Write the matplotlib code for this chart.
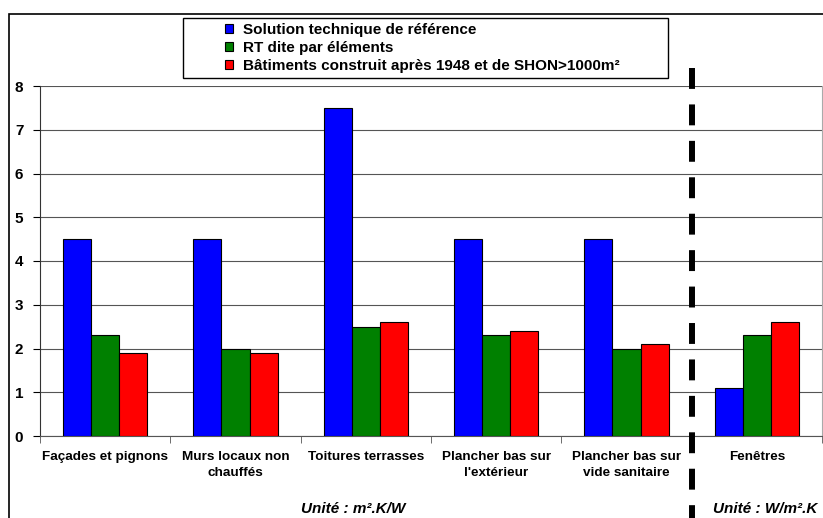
import numpy as np
import matplotlib.pyplot as plt
from matplotlib.patches import Rectangle

plt.rcParams['font.family'] = ['Liberation Sans', 'DejaVu Sans']
plt.rcParams['font.weight'] = 'bold'

# données
categories = ['Façades et pignons', 'Murs locaux non\nchauffés', 'Toitures terrasses',
              "Plancher bas sur\nl'extérieur", 'Plancher bas sur\nvide sanitaire', 'Fenêtres']
series = ['Solution technique de référence', 'RT dite par éléments',
          'Bâtiments construit après 1948 et de SHON>1000m²']
ref = [4.5, 4.5, 7.5, 4.5, 4.5, 1.1]
rt = [2.3, 2.0, 2.5, 2.3, 2.0, 2.3]
bat = [1.9, 1.9, 2.6, 2.4, 2.1, 2.6]
couleurs = ['#0000ff', '#008000', '#ff0000']

W, H = 823, 518
fig = plt.figure(figsize=(W / 100, H / 100), dpi=100)
ax = fig.add_axes([40 / W, 82 / H, 782 / W, 350 / H])

x = np.arange(len(categories))
w = 0.215
for i, (vals, c, lab) in enumerate(zip([ref, rt, bat], couleurs, series)):
    ax.bar(x + (i - 1) * w, vals, w, color=c, edgecolor='black', linewidth=0.8,
           label=lab, zorder=3)

ax.set_xlim(-0.5, len(categories) - 0.5)
ax.set_ylim(0, 8)
ax.set_yticks(range(9))
ax.yaxis.grid(True, color='#555555', linewidth=0.8, zorder=0)
ax.set_xticks(x)
ax.set_xticklabels(categories, fontsize=9.7, fontweight='bold', linespacing=1.45)
ax.set_xticks(np.arange(-0.5, len(categories)), minor=True)
ax.tick_params(axis='x', which='major', length=0, pad=11)
ax.tick_params(axis='x', which='minor', length=5, color='#555555')
ax.tick_params(axis='y', length=5, labelsize=11, pad=7)
for lbl in ax.get_yticklabels():
    lbl.set_fontweight('bold')
ax.spines['top'].set_visible(False)
ax.spines['right'].set_color('#aaaaaa')
ax.spines['bottom'].set_color('#555555')
ax.spines['left'].set_color('#333333')

# ligne pointillée entre murs et fenêtres
ax.plot([4.5, 4.5], [8.41, -2.0], color='black', linewidth=4.3,
        dashes=(3.5, 2.6), clip_on=False, zorder=5)

# cadre extérieur
fig.patches.append(Rectangle((9 / W, -0.1), 1.0, 1 - 14 / H + 0.1,
                             transform=fig.transFigure, fill=False,
                             edgecolor='black', linewidth=1.2))

# cadre de la légende
fig.patches.append(Rectangle((183 / W, 1 - 78 / H), 485 / W, 60 / H,
                             transform=fig.transFigure, fill=True,
                             facecolor='white', edgecolor='black',
                             linewidth=1.0, zorder=4))
leg = fig.legend(loc='center left', bbox_to_anchor=(225 / W, 1 - 48 / H),
                 fontsize=11, frameon=False,
                 handlelength=0.55, handleheight=0.55, handletextpad=0.6,
                 borderpad=0, labelspacing=0.26, borderaxespad=0)
leg.set_zorder(6)
for t in leg.get_texts():
    t.set_fontweight('bold')

fig.text(353 / W, 1 - 509 / H, 'Unité : m².K/W', fontsize=11,
         fontweight='bold', style='italic', ha='center', va='center')
fig.text(765 / W, 1 - 509 / H, 'Unité : W/m².K', fontsize=11,
         fontweight='bold', style='italic', ha='center', va='center')

fig.savefig('out.png', dpi=100)
